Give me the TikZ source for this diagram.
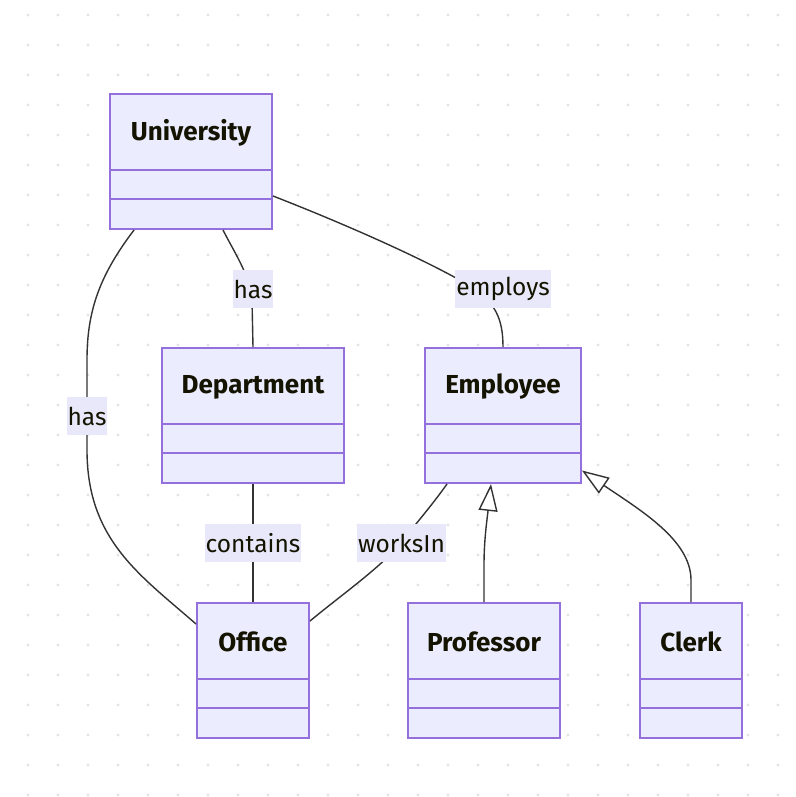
\documentclass[tikz,border=0pt]{standalone}
\usepackage{fontspec}
\setmainfont{Fira Sans}
\usetikzlibrary{arrows.meta}
\definecolor{boxfill}{HTML}{ECECFF}
\definecolor{boxline}{HTML}{9370DB}
\definecolor{edgecol}{HTML}{333333}
\definecolor{txt}{HTML}{131300}
\definecolor{dotcol}{HTML}{E4E4E4}
\definecolor{lblfill}{HTML}{E8E8FA}
\tikzset{
  classbox/.style={draw=boxline, fill=boxfill, line width=2pt, rectangle, inner sep=0pt, minimum height=135pt},
  divider/.style={draw=boxline, line width=1.6pt},
  ctitle/.style={text=txt, font=\fontsize{26}{31}\selectfont\bfseries, inner sep=0pt},
  edge/.style={draw=edgecol, line width=1.4pt},
  inherit/.style={edge, -{Triangle[open, length=27pt, width=19pt, line width=1.4pt]}},
  elabel/.style={fill=lblfill, text=txt, font=\fontsize{24.5}{29}\selectfont, inner xsep=1pt, inner ysep=0pt, minimum height=38pt},
}
\newcommand{\umlclass}[5]{%
  \node[classbox, minimum width=#3] (#1) at (#2) {};
  \draw[divider] ([yshift=-77pt]#1.north west) -- ([yshift=-77pt]#1.north east);
  \draw[divider] ([yshift=-106pt]#1.north west) -- ([yshift=-106pt]#1.north east);
  \node[ctitle] (#1-title) at ([yshift=-40pt]#1.north) {#5};
}
\begin{document}
\begin{tikzpicture}[x=1pt, y=-1pt]
\useasboundingbox[fill=white] (0,0) rectangle (795,797);
% dotted grid
\foreach \i in {0,...,25}{
  \foreach \j in {0,...,26}{
    \fill[dotcol] ({28+30*\i},{15+30*\j}) circle (1.6pt);
  }
}
% classes
\umlclass{univ}{191,161.5}{162}{}{University}
\umlclass{dept}{253,415.5}{182}{}{Department}
\umlclass{emp}{503,415.5}{156}{}{Employee}
\umlclass{office}{253,670.5}{112}{}{Office}
\umlclass{prof}{484,670.5}{152}{}{Professor}
\umlclass{clerk}{691,670.5}{102}{}{Clerk}
% connectors
\draw[edge] ([xshift=114pt]univ.south west) .. controls (234,252) and (250,275) .. (252,300) -- (dept.north);
\draw[edge] ([xshift=25pt]univ.south west) .. controls (100,275) and (87,310) .. (87,360) -- (87,450) .. controls (87,540) and (140,575) .. ([yshift=-22pt]office.north west);
\draw[edge] ([yshift=-34.5pt]univ.east) .. controls (350,226) and (430,262) .. (470,286) .. controls (495,302) and (503,318) .. (emp.north);
\draw[edge] (dept.south) -- (office.north);
\draw[edge] ([xshift=23pt]emp.south west) .. controls (430,508) and (412,528) .. (401,543) .. controls (380,568) and (340,596) .. ([yshift=-19pt]office.north east);
\draw[inherit] (prof.north) -- (484,565) .. controls (484,540) and (487,520) .. ([xshift=67pt]emp.south west);
\draw[inherit] (clerk.north) -- (691,580) .. controls (691,540) and (640,510) .. ([yshift=13.5pt]emp.south east);
% labels
\node[elabel] (l-has1) at (253,289) {has};
\node[elabel] (l-has2) at (87,416) {has};
\node[elabel] (l-employs) at (503,289) {employs};
\node[elabel] (l-contains) at (253,543) {contains};
\node[elabel] (l-worksin) at (401.5,543) {worksIn};
\end{tikzpicture}
\end{document}
